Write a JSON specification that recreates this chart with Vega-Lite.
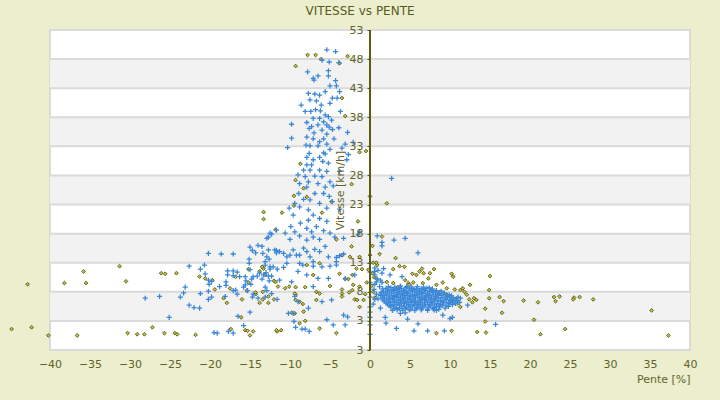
{
  "$schema": "https://vega.github.io/schema/vega-lite/v6.json",
  "width": 640,
  "height": 320,
  "autosize": {"type": "none"},
  "padding": {"left": 50, "top": 30, "right": 30, "bottom": 50},
  "background": "#ebefcd",
  "title": {"text": "VITESSE vs PENTE", "fontSize": 12, "fontWeight": "normal", "color": "#5a5a1e", "offset": 6, "dx": -10},
  "config": {
    "font": "DejaVu Sans",
    "view": {"fill": "#ffffff", "stroke": "#dadada", "strokeWidth": 2},
    "axis": {"labelColor": "#62622a", "titleColor": "#62622a", "labelFontSize": 11, "titleFontSize": 11, "titleFontWeight": "normal", "grid": false, "domain": false},
    "axisX": {"titleAnchor": "end", "titlePadding": 4, "labelPadding": 8, "ticks": false, "labelFlush": false},
    "axisY": {"offset": -320, "tickSize": 3, "tickColor": "#5c5c0c", "labelPadding": 4, "titlePadding": 4}
  },
  "datasets": {
    "bands": [{"lo": 3, "hi": 8}, {"lo": 13, "hi": 18}, {"lo": 23, "hi": 28}, {"lo": 33, "hi": 38}, {"lo": 43, "hi": 48}],
    "grid": [{"g": 3}, {"g": 8}, {"g": 13}, {"g": 18}, {"g": 23}, {"g": 28}, {"g": 33}, {"g": 38}, {"g": 43}, {"g": 48}],
    "olive": [
      {"p": -7.8, "v": 48.7}, {"p": -6.8, "v": 48.7}, {"p": -6.1, "v": 48.0}, {"p": -2.8, "v": 48.5}, {"p": -3.8, "v": 47.3}, {"p": -9.3, "v": 46.8}, {"p": -3.5, "v": 41.3}, {"p": -3.1, "v": 38.2}, {"p": -1.3, "v": 32.0}, {"p": -0.5, "v": 32.2},
      {"p": -8.7, "v": 30.0}, {"p": -9.3, "v": 27.2}, {"p": -8.3, "v": 25.8}, {"p": -9.5, "v": 24.5}, {"p": -7.9, "v": 24.3}, {"p": -4.8, "v": 23.5}, {"p": -9.5, "v": 22.8}, {"p": -13.3, "v": 21.7}, {"p": -11.0, "v": 21.6}, {"p": -13.3, "v": 20.5}, {"p": -6.0, "v": 21.6}, {"p": -1.5, "v": 20.1}, {"p": -11.8, "v": 18.7}, {"p": -4.2, "v": 17.0}, {"p": -2.3, "v": 15.8}, {"p": 0.3, "v": 15.9}, {"p": -2.5, "v": 14.0}, {"p": -1.3, "v": 14.0}, {"p": -6.3, "v": 12.9}, {"p": -7.9, "v": 12.6}, {"p": -2.3, "v": 26.5},
      {"p": -26.1, "v": 11.2}, {"p": -25.6, "v": 11.1}, {"p": -24.2, "v": 11.2}, {"p": -21.3, "v": 10.6}, {"p": -20.6, "v": 10.3}, {"p": -19.7, "v": 10.0}, {"p": -16.8, "v": 10.6}, {"p": -15.2, "v": 11.9}, {"p": -13.8, "v": 11.5}, {"p": -13.3, "v": 12.0}, {"p": -12.0, "v": 9.9}, {"p": -11.5, "v": 8.9}, {"p": -19.4, "v": 8.4}, {"p": -17.5, "v": 8.6}, {"p": -15.4, "v": 8.2}, {"p": -14.3, "v": 7.6}, {"p": -16.0, "v": 6.7}, {"p": -18.3, "v": 6.9}, {"p": -17.9, "v": 6.1}, {"p": -13.4, "v": 6.7}, {"p": -12.7, "v": 6.1}, {"p": -13.8, "v": 6.1}, {"p": -16.1, "v": 3.6}, {"p": -27.2, "v": 1.9}, {"p": -25.7, "v": 0.9}, {"p": -24.4, "v": 0.9}, {"p": -24.1, "v": 0.7}, {"p": -21.8, "v": 0.6}, {"p": -17.4, "v": 1.6}, {"p": -15.6, "v": 1.4}, {"p": -15.3, "v": 1.3}, {"p": -14.6, "v": 1.2}, {"p": -15.0, "v": 0.5}, {"p": -11.6, "v": 1.2},
      {"p": -42.8, "v": 9.3}, {"p": -44.8, "v": 1.6}, {"p": -42.3, "v": 1.9}, {"p": -40.2, "v": 0.5}, {"p": -38.2, "v": 9.5}, {"p": -35.8, "v": 11.5}, {"p": -35.5, "v": 9.5}, {"p": -36.6, "v": 0.5}, {"p": -31.3, "v": 12.4}, {"p": -30.5, "v": 9.8}, {"p": -30.3, "v": 0.9}, {"p": -29.1, "v": 0.7}, {"p": -28.2, "v": 0.7}, {"p": -15.2, "v": 9.6}, {"p": -14.3, "v": 7.9}, {"p": -11.7, "v": 1.4}, {"p": -11.1, "v": 1.4}, {"p": -10.6, "v": 8.6}, {"p": -9.8, "v": 4.4}, {"p": -9.3, "v": 7.5}, {"p": -9.3, "v": 8.8},
      {"p": -13.5, "v": 12.3}, {"p": -13.1, "v": 10.9}, {"p": -11.8, "v": 9.7}, {"p": -10.1, "v": 8.9}, {"p": -8.1, "v": 8.8}, {"p": -7.1, "v": 10.9}, {"p": -6.7, "v": 8.0}, {"p": -6.3, "v": 7.7}, {"p": -5.0, "v": 9.0}, {"p": -3.8, "v": 11.1}, {"p": -3.5, "v": 8.4}, {"p": -3.5, "v": 7.7}, {"p": -3.5, "v": 7.2}, {"p": -3.1, "v": 10.2}, {"p": -2.7, "v": 10.2}, {"p": -2.6, "v": 7.9}, {"p": -2.1, "v": 9.2}, {"p": -1.9, "v": 6.7}, {"p": -1.6, "v": 6.6}, {"p": -1.3, "v": 8.9}, {"p": -2.2, "v": 8.3}, {"p": -9.4, "v": 7.7}, {"p": -9.3, "v": 6.6}, {"p": -8.8, "v": 6.3}, {"p": -8.4, "v": 5.9}, {"p": -6.7, "v": 6.6}, {"p": -9.4, "v": 4.3}, {"p": -8.3, "v": 4.6}, {"p": -8.1, "v": 3.0}, {"p": -8.8, "v": 2.6}, {"p": -6.3, "v": 1.7}, {"p": -4.2, "v": 0.9}, {"p": -13.4, "v": 8.0}, {"p": -12.7, "v": 7.2}, {"p": -12.0, "v": 6.7}, {"p": -1.3, "v": 5.4}, {"p": -0.8, "v": 6.6}, {"p": -0.6, "v": 7.6}, {"p": -0.4, "v": 9.6}, {"p": -1.0, "v": 11.9}, {"p": -1.7, "v": 12.0}, {"p": -2.2, "v": 10.9}, {"p": -3.5, "v": 14.3}, {"p": 0.0, "v": 14.3}, {"p": -0.2, "v": 11.8}, {"p": 0.4, "v": 13.0}, {"p": 0.9, "v": 12.6},
      {"p": 2.1, "v": 23.2}, {"p": 1.5, "v": 17.5}, {"p": 1.2, "v": 14.5}, {"p": 3.2, "v": 13.8}, {"p": 0.8, "v": 13.0}, {"p": 3.7, "v": 12.4}, {"p": 0.0, "v": 24.4},
      {"p": 0.3, "v": 11.2}, {"p": 0.5, "v": 10.5}, {"p": 0.2, "v": 9.0}, {"p": 0.4, "v": 8.0}, {"p": 0.6, "v": 7.0},
      {"p": 4.3, "v": 12.3}, {"p": 2.9, "v": 11.9}, {"p": 6.5, "v": 12.0}, {"p": 6.2, "v": 11.5}, {"p": 6.7, "v": 11.2}, {"p": 5.3, "v": 11.1}, {"p": 5.8, "v": 10.9}, {"p": 7.5, "v": 11.2}, {"p": 7.3, "v": 10.3}, {"p": 8.0, "v": 11.9}, {"p": 10.2, "v": 11.1}, {"p": 10.4, "v": 10.6}, {"p": 0.8, "v": 10.3}, {"p": 2.9, "v": 9.5}, {"p": 4.4, "v": 10.0}, {"p": 5.4, "v": 9.6}, {"p": 6.6, "v": 9.5}, {"p": 8.3, "v": 9.2}, {"p": 9.1, "v": 9.6}, {"p": 9.6, "v": 8.6}, {"p": 10.6, "v": 8.4}, {"p": 11.3, "v": 8.3}, {"p": 11.8, "v": 8.0}, {"p": 12.1, "v": 7.5}, {"p": 12.5, "v": 9.2}, {"p": 12.4, "v": 6.7}, {"p": 13.0, "v": 6.9}, {"p": 13.3, "v": 6.6}, {"p": 9.6, "v": 7.5}, {"p": 10.0, "v": 7.2}, {"p": 10.6, "v": 6.7}, {"p": 11.0, "v": 6.0}, {"p": 11.3, "v": 5.4}, {"p": 8.3, "v": 0.9}, {"p": 10.2, "v": 1.3}, {"p": 13.4, "v": 1.1}, {"p": 4.8, "v": 9.5}, {"p": 7.7, "v": 8.3}, {"p": 8.8, "v": 8.0}, {"p": 6.9, "v": 8.3}, {"p": 2.1, "v": 9.7}, {"p": 3.5, "v": 8.8}, {"p": 4.9, "v": 9.2},
      {"p": 15.0, "v": 10.7}, {"p": 11.6, "v": 8.6}, {"p": 14.9, "v": 8.3}, {"p": 12.8, "v": 6.2}, {"p": 14.9, "v": 6.9}, {"p": 16.2, "v": 7.1}, {"p": 16.7, "v": 6.4}, {"p": 19.2, "v": 6.5}, {"p": 21.0, "v": 6.2}, {"p": 23.0, "v": 7.1}, {"p": 23.7, "v": 7.2}, {"p": 23.2, "v": 6.4}, {"p": 25.5, "v": 7.0}, {"p": 25.4, "v": 6.7}, {"p": 26.2, "v": 7.1}, {"p": 27.9, "v": 6.7}, {"p": 14.4, "v": 5.1}, {"p": 16.5, "v": 4.4}, {"p": 14.4, "v": 2.9}, {"p": 20.5, "v": 3.2}, {"p": 14.5, "v": 1.0}, {"p": 21.3, "v": 0.7}, {"p": 24.4, "v": 1.6}, {"p": 35.2, "v": 4.8}, {"p": 37.3, "v": 0.5}
    ],
    "blue": [
      {"p": -5.4, "v": 49.6}, {"p": -4.3, "v": 49.3}, {"p": -6.0, "v": 47.8}, {"p": -5.1, "v": 47.5}, {"p": -3.9, "v": 47.4}, {"p": -7.8, "v": 45.8}, {"p": -5.2, "v": 46.0}, {"p": -7.1, "v": 44.7}, {"p": -6.5, "v": 45.1}, {"p": -5.2, "v": 45.1}, {"p": -7.0, "v": 44.4}, {"p": -4.3, "v": 44.3}, {"p": -5.0, "v": 43.4}, {"p": -4.2, "v": 43.4}, {"p": -5.6, "v": 42.4}, {"p": -3.8, "v": 42.4}, {"p": -7.7, "v": 42.1}, {"p": -6.9, "v": 42.0}, {"p": -6.3, "v": 41.8}, {"p": -4.7, "v": 41.3}, {"p": -4.1, "v": 41.3}, {"p": -7.5, "v": 41.0}, {"p": -6.7, "v": 40.8}, {"p": -8.6, "v": 40.1}, {"p": -5.0, "v": 40.4}, {"p": -6.1, "v": 40.1}, {"p": -8.1, "v": 39.0}, {"p": -7.4, "v": 39.0}, {"p": -6.8, "v": 39.3}, {"p": -6.2, "v": 39.1}, {"p": -5.6, "v": 38.4}, {"p": -3.7, "v": 39.0}, {"p": -5.2, "v": 38.1}, {"p": -7.1, "v": 37.8}, {"p": -6.3, "v": 37.8}, {"p": -5.8, "v": 37.2}, {"p": -4.8, "v": 37.5}, {"p": -9.8, "v": 36.8}, {"p": -7.9, "v": 37.1}, {"p": -7.3, "v": 36.4}, {"p": -6.5, "v": 36.7}, {"p": -5.4, "v": 36.7}, {"p": -5.1, "v": 36.3}, {"p": -3.9, "v": 36.2}, {"p": -7.6, "v": 36.1}, {"p": -6.0, "v": 35.8}, {"p": -4.7, "v": 35.9}, {"p": -2.8, "v": 35.4}, {"p": -7.0, "v": 35.3}, {"p": -5.4, "v": 35.1}, {"p": -7.9, "v": 34.6}, {"p": -7.1, "v": 34.3}, {"p": -5.8, "v": 34.3}, {"p": -4.5, "v": 34.3}, {"p": -9.8, "v": 34.4}, {"p": -6.3, "v": 33.8}, {"p": -8.0, "v": 33.2}, {"p": -7.5, "v": 33.1}, {"p": -6.5, "v": 33.1}, {"p": -5.4, "v": 33.4}, {"p": -3.1, "v": 33.4}, {"p": -2.1, "v": 33.7}, {"p": -10.3, "v": 32.8}, {"p": -5.0, "v": 32.5}, {"p": -3.5, "v": 32.7}, {"p": -7.6, "v": 31.8}, {"p": -6.3, "v": 31.1}, {"p": -5.6, "v": 31.7}, {"p": -7.9, "v": 31.1}, {"p": -2.7, "v": 31.6},
      {"p": -5.8, "v": 31.9}, {"p": -7.1, "v": 30.7}, {"p": -7.9, "v": 29.8}, {"p": -7.3, "v": 29.8}, {"p": -5.9, "v": 30.4}, {"p": -5.2, "v": 30.1}, {"p": -2.9, "v": 30.7}, {"p": -8.3, "v": 28.9}, {"p": -7.5, "v": 28.9}, {"p": -6.3, "v": 28.9}, {"p": -5.4, "v": 28.7}, {"p": -3.8, "v": 28.7}, {"p": -9.0, "v": 28.1}, {"p": -8.1, "v": 27.8}, {"p": -6.9, "v": 27.9}, {"p": -6.0, "v": 27.8}, {"p": -5.0, "v": 26.9}, {"p": -7.7, "v": 26.9}, {"p": -8.8, "v": 26.6}, {"p": -6.5, "v": 26.6}, {"p": -7.9, "v": 26.0}, {"p": -5.6, "v": 26.0}, {"p": -4.6, "v": 26.2}, {"p": -8.9, "v": 24.9}, {"p": -6.9, "v": 24.9}, {"p": -5.8, "v": 24.9}, {"p": -5.1, "v": 24.4}, {"p": -8.3, "v": 23.9}, {"p": -7.5, "v": 23.8}, {"p": -6.3, "v": 23.2}, {"p": -4.7, "v": 23.5}, {"p": -9.4, "v": 23.2}, {"p": -10.1, "v": 22.4}, {"p": -8.8, "v": 22.6}, {"p": -7.7, "v": 22.1}, {"p": -5.4, "v": 22.4}, {"p": -3.8, "v": 22.2}, {"p": -7.1, "v": 21.2}, {"p": -9.6, "v": 21.2}, {"p": -6.3, "v": 20.6}, {"p": -7.7, "v": 20.3}, {"p": -8.7, "v": 19.8}, {"p": -5.4, "v": 20.1}, {"p": -9.9, "v": 19.2}, {"p": -6.7, "v": 19.2}, {"p": -7.9, "v": 18.9}, {"p": -12.5, "v": 18.1}, {"p": -11.7, "v": 18.6}, {"p": -9.4, "v": 18.3}, {"p": -7.3, "v": 18.3}, {"p": -5.8, "v": 18.5}, {"p": -5.0, "v": 18.1}, {"p": -10.6, "v": 18.1}, {"p": -8.8, "v": 17.6}, {"p": -7.1, "v": 17.4}, {"p": -4.4, "v": 17.4}, {"p": -12.9, "v": 17.2}, {"p": -10.0, "v": 17.0}, {"p": -7.9, "v": 16.9}, {"p": -6.3, "v": 17.0}, {"p": -3.3, "v": 17.2}, {"p": -13.5, "v": 15.8}, {"p": -11.9, "v": 15.2}, {"p": -11.3, "v": 14.9}, {"p": -9.6, "v": 15.2}, {"p": -8.3, "v": 15.5}, {"p": -6.9, "v": 15.3}, {"p": -5.6, "v": 15.8}, {"p": -12.9, "v": 14.0}, {"p": -10.4, "v": 14.0}, {"p": -9.2, "v": 14.3}, {"p": -7.5, "v": 14.0}, {"p": -6.3, "v": 14.9}, {"p": -5.2, "v": 14.0}, {"p": -3.8, "v": 14.2}, {"p": -1.5, "v": 17.8}, {"p": -1.3, "v": 18.3}, {"p": -8.8, "v": 12.9}, {"p": -7.1, "v": 13.2}, {"p": -4.2, "v": 13.2}, {"p": -12.5, "v": 12.3}, {"p": -10.8, "v": 12.2},
      {"p": -20.2, "v": 14.6}, {"p": -18.6, "v": 14.5}, {"p": -17.1, "v": 14.5}, {"p": -15.0, "v": 15.7}, {"p": -14.7, "v": 15.1}, {"p": -14.0, "v": 16.0}, {"p": -14.3, "v": 14.7}, {"p": -13.4, "v": 14.6}, {"p": -12.7, "v": 15.2}, {"p": -12.3, "v": 17.9}, {"p": -12.7, "v": 17.4}, {"p": -11.7, "v": 15.1}, {"p": -15.1, "v": 13.6}, {"p": -15.1, "v": 12.9}, {"p": -12.6, "v": 13.6}, {"p": -13.1, "v": 13.2}, {"p": -22.6, "v": 12.4}, {"p": -20.7, "v": 12.6}, {"p": -21.2, "v": 11.9}, {"p": -17.8, "v": 11.6}, {"p": -17.1, "v": 11.6}, {"p": -16.6, "v": 11.4}, {"p": -15.0, "v": 11.8}, {"p": -13.8, "v": 11.2}, {"p": -13.0, "v": 11.3}, {"p": -12.5, "v": 11.9}, {"p": -11.6, "v": 11.9}, {"p": -20.6, "v": 11.1}, {"p": -17.8, "v": 10.9}, {"p": -17.1, "v": 10.8}, {"p": -16.3, "v": 10.6}, {"p": -15.6, "v": 10.6}, {"p": -14.6, "v": 10.6}, {"p": -14.1, "v": 10.7}, {"p": -13.3, "v": 10.9}, {"p": -12.7, "v": 10.7}, {"p": -20.2, "v": 10.0}, {"p": -19.8, "v": 9.8}, {"p": -18.0, "v": 9.7}, {"p": -15.5, "v": 9.9}, {"p": -14.8, "v": 10.2}, {"p": -13.5, "v": 10.2}, {"p": -12.6, "v": 9.9}, {"p": -20.1, "v": 9.3}, {"p": -18.8, "v": 8.9}, {"p": -18.0, "v": 9.1}, {"p": -15.6, "v": 9.2}, {"p": -14.9, "v": 9.3}, {"p": -13.1, "v": 8.8}, {"p": -23.1, "v": 8.8}, {"p": -16.8, "v": 8.3}, {"p": -15.8, "v": 8.8}, {"p": -20.2, "v": 8.1}, {"p": -21.2, "v": 7.7}, {"p": -23.3, "v": 7.8}, {"p": -17.1, "v": 8.2}, {"p": -16.6, "v": 7.6}, {"p": -15.3, "v": 8.2}, {"p": -14.6, "v": 7.6}, {"p": -12.9, "v": 8.2}, {"p": -26.3, "v": 7.2}, {"p": -23.7, "v": 7.1}, {"p": -20.2, "v": 6.7}, {"p": -19.8, "v": 7.1}, {"p": -18.1, "v": 7.2}, {"p": -14.7, "v": 7.1}, {"p": -14.0, "v": 6.9}, {"p": -13.1, "v": 7.1}, {"p": -11.6, "v": 6.7}, {"p": -22.6, "v": 5.7}, {"p": -22.0, "v": 5.3}, {"p": -21.3, "v": 5.2}, {"p": -15.0, "v": 4.5}, {"p": -16.5, "v": 3.8}, {"p": -25.1, "v": 3.6}, {"p": -15.8, "v": 2.2}, {"p": -19.5, "v": 1.0}, {"p": -19.1, "v": 0.9}, {"p": -17.7, "v": 1.2}, {"p": -17.1, "v": 0.9}, {"p": -28.1, "v": 6.9},
      {"p": -11.7, "v": 14.7}, {"p": -10.8, "v": 14.6}, {"p": -10.0, "v": 14.3}, {"p": -8.8, "v": 14.3}, {"p": -7.9, "v": 14.9}, {"p": -4.2, "v": 13.9}, {"p": -3.3, "v": 14.5}, {"p": -13.1, "v": 12.6}, {"p": -12.1, "v": 12.3}, {"p": -10.4, "v": 12.9}, {"p": -9.0, "v": 11.5}, {"p": -8.4, "v": 12.6}, {"p": -7.1, "v": 12.4}, {"p": -6.0, "v": 12.3}, {"p": -5.0, "v": 12.4}, {"p": -4.2, "v": 12.6}, {"p": -12.3, "v": 10.7}, {"p": -11.3, "v": 10.0}, {"p": -9.8, "v": 9.7}, {"p": -7.9, "v": 10.9}, {"p": -7.1, "v": 8.9}, {"p": -6.5, "v": 10.3}, {"p": -5.2, "v": 10.3}, {"p": -3.1, "v": 10.3}, {"p": -1.9, "v": 10.9}, {"p": -12.3, "v": 7.7}, {"p": -9.4, "v": 7.2}, {"p": -9.0, "v": 6.3}, {"p": -7.7, "v": 5.2}, {"p": -6.0, "v": 6.3}, {"p": -4.8, "v": 6.6}, {"p": -10.2, "v": 4.3}, {"p": -9.6, "v": 4.3}, {"p": -9.5, "v": 2.9}, {"p": -9.3, "v": 1.9}, {"p": -8.5, "v": 1.6}, {"p": -8.1, "v": 1.6}, {"p": -7.6, "v": 1.2}, {"p": -5.4, "v": 3.2}, {"p": -4.6, "v": 2.3}, {"p": -3.3, "v": 4.0}, {"p": -2.8, "v": 3.7}, {"p": -3.1, "v": 2.3}, {"p": 0.6, "v": 10.9}, {"p": 0.8, "v": 9.7},
      {"p": 0, "v": 12.9}, {"p": 0, "v": 11.4}, {"p": 0, "v": 9.6}, {"p": 0, "v": 7.1}, {"p": 0, "v": 5.4}, {"p": 0, "v": 4.5}, {"p": 0, "v": 3.6}, {"p": 0, "v": 2.3}, {"p": 0, "v": 0.7},
      {"p": 6.0, "v": 14.7}, {"p": 1.7, "v": 12.0}, {"p": 1.5, "v": 11.2}, {"p": 2.5, "v": 10.9}, {"p": 0.6, "v": 11.5}, {"p": 1.3, "v": 10.0}, {"p": 4.0, "v": 10.6}, {"p": 1.3, "v": 5.2}, {"p": 2.8, "v": 4.8}, {"p": 3.8, "v": 4.3}, {"p": 4.4, "v": 4.4}, {"p": 1.9, "v": 3.6}, {"p": 2.0, "v": 2.6}, {"p": 3.3, "v": 1.7}, {"p": 4.7, "v": 3.3}, {"p": 6.0, "v": 2.5}, {"p": 5.5, "v": 1.3}, {"p": 7.2, "v": 1.3}, {"p": 9.1, "v": 4.0}, {"p": 10.0, "v": 3.4}, {"p": 10.3, "v": 3.6}, {"p": 9.3, "v": 1.3}, {"p": 11.3, "v": 6.9}, {"p": 12.2, "v": 5.7}, {"p": 8.3, "v": 4.8}, {"p": 15.7, "v": 2.4}, {"p": 0.6, "v": 12.1}, {"p": 1.0, "v": 11.7}, {"p": 0.9, "v": 10.2}, {"p": 0.6, "v": 9.3}, {"p": 0.5, "v": 8.4}, {"p": 0.8, "v": 7.6}, {"p": 0.6, "v": 6.7}, {"p": 0.4, "v": 5.9}, {"p": 1.0, "v": 6.8}, {"p": 1.2, "v": 8.9}, {"p": 1.5, "v": 9.6}, {"p": 1.3, "v": 7.4}, {"p": 0.9, "v": 17.6}, {"p": 1.5, "v": 16.5}, {"p": 1.5, "v": 15.9}, {"p": 3.0, "v": 16.9}, {"p": 4.4, "v": 17.2}, {"p": 2.7, "v": 27.5},
      {"p": 2.3, "v": 8.9}, {"p": 3.1, "v": 8.8}, {"p": 3.8, "v": 9.0}, {"p": 4.6, "v": 8.9}, {"p": 5.2, "v": 8.8}, {"p": 5.9, "v": 8.9}, {"p": 6.7, "v": 8.8}, {"p": 7.4, "v": 8.7},
      {"p": 2.0, "v": 8.6}, {"p": 2.6, "v": 8.7}, {"p": 3.3, "v": 8.6}, {"p": 3.9, "v": 8.6}, {"p": 4.5, "v": 8.7}, {"p": 5.2, "v": 8.6}, {"p": 5.8, "v": 8.5}, {"p": 6.4, "v": 8.6}, {"p": 7.1, "v": 8.6}, {"p": 7.8, "v": 8.5},
      {"p": 1.6, "v": 8.5}, {"p": 2.2, "v": 8.3}, {"p": 2.9, "v": 8.4}, {"p": 3.5, "v": 8.4}, {"p": 4.2, "v": 8.3}, {"p": 4.9, "v": 8.5}, {"p": 5.5, "v": 8.4}, {"p": 6.1, "v": 8.3}, {"p": 6.8, "v": 8.4}, {"p": 7.6, "v": 8.3}, {"p": 8.3, "v": 8.2},
      {"p": 1.7, "v": 8.1}, {"p": 2.4, "v": 8.1}, {"p": 3.0, "v": 8.2}, {"p": 3.7, "v": 8.1}, {"p": 4.3, "v": 8.1}, {"p": 5.0, "v": 8.2}, {"p": 5.6, "v": 8.1}, {"p": 6.2, "v": 8.1}, {"p": 6.9, "v": 8.2}, {"p": 7.5, "v": 8.1}, {"p": 8.2, "v": 8.0}, {"p": 8.9, "v": 8.1},
      {"p": 1.4, "v": 7.9}, {"p": 2.0, "v": 7.8}, {"p": 2.7, "v": 8.0}, {"p": 3.3, "v": 7.9}, {"p": 4.0, "v": 7.8}, {"p": 4.6, "v": 7.9}, {"p": 5.3, "v": 8.0}, {"p": 5.9, "v": 7.8}, {"p": 6.5, "v": 7.9}, {"p": 7.2, "v": 7.8}, {"p": 7.9, "v": 7.9}, {"p": 8.6, "v": 7.7}, {"p": 9.3, "v": 7.8},
      {"p": 1.4, "v": 7.6}, {"p": 2.1, "v": 7.6}, {"p": 2.7, "v": 7.7}, {"p": 3.4, "v": 7.6}, {"p": 4.0, "v": 7.6}, {"p": 4.7, "v": 7.7}, {"p": 5.3, "v": 7.6}, {"p": 5.9, "v": 7.6}, {"p": 6.6, "v": 7.7}, {"p": 7.2, "v": 7.6}, {"p": 7.9, "v": 7.6}, {"p": 8.5, "v": 7.5}, {"p": 9.2, "v": 7.6}, {"p": 9.9, "v": 7.5},
      {"p": 1.7, "v": 7.4}, {"p": 2.4, "v": 7.3}, {"p": 3.0, "v": 7.4}, {"p": 3.6, "v": 7.5}, {"p": 4.3, "v": 7.4}, {"p": 4.9, "v": 7.3}, {"p": 5.6, "v": 7.4}, {"p": 6.2, "v": 7.5}, {"p": 6.9, "v": 7.3}, {"p": 7.5, "v": 7.4}, {"p": 8.2, "v": 7.3}, {"p": 8.9, "v": 7.4}, {"p": 9.6, "v": 7.2}, {"p": 10.2, "v": 7.3},
      {"p": 1.8, "v": 7.1}, {"p": 2.5, "v": 7.1}, {"p": 3.1, "v": 7.2}, {"p": 3.8, "v": 7.1}, {"p": 4.4, "v": 7.1}, {"p": 5.1, "v": 7.2}, {"p": 5.7, "v": 7.1}, {"p": 6.4, "v": 7.1}, {"p": 7.0, "v": 7.2}, {"p": 7.7, "v": 7.1}, {"p": 8.3, "v": 7.1}, {"p": 9.0, "v": 7.0}, {"p": 9.7, "v": 7.0}, {"p": 10.4, "v": 7.0}, {"p": 11.0, "v": 7.1},
      {"p": 1.5, "v": 6.9}, {"p": 2.1, "v": 6.8}, {"p": 2.8, "v": 6.9}, {"p": 3.4, "v": 7.0}, {"p": 4.1, "v": 6.9}, {"p": 4.7, "v": 6.8}, {"p": 5.4, "v": 6.9}, {"p": 6.0, "v": 7.0}, {"p": 6.6, "v": 6.8}, {"p": 7.3, "v": 6.9}, {"p": 8.0, "v": 6.8}, {"p": 8.6, "v": 6.9}, {"p": 9.4, "v": 6.8}, {"p": 10.1, "v": 6.7}, {"p": 10.8, "v": 6.8},
      {"p": 1.6, "v": 6.6}, {"p": 2.3, "v": 6.6}, {"p": 2.9, "v": 6.7}, {"p": 3.6, "v": 6.6}, {"p": 4.2, "v": 6.6}, {"p": 4.9, "v": 6.7}, {"p": 5.5, "v": 6.6}, {"p": 6.2, "v": 6.6}, {"p": 6.8, "v": 6.7}, {"p": 7.5, "v": 6.6}, {"p": 8.1, "v": 6.6}, {"p": 8.8, "v": 6.5}, {"p": 9.5, "v": 6.6}, {"p": 10.2, "v": 6.5}, {"p": 10.9, "v": 6.5},
      {"p": 1.8, "v": 6.4}, {"p": 2.5, "v": 6.3}, {"p": 3.1, "v": 6.4}, {"p": 3.8, "v": 6.5}, {"p": 4.4, "v": 6.3}, {"p": 5.1, "v": 6.4}, {"p": 5.7, "v": 6.3}, {"p": 6.3, "v": 6.4}, {"p": 7.0, "v": 6.5}, {"p": 7.7, "v": 6.3}, {"p": 8.4, "v": 6.4}, {"p": 9.1, "v": 6.3}, {"p": 9.8, "v": 6.2}, {"p": 10.5, "v": 6.3}, {"p": 11.2, "v": 6.2},
      {"p": 2.0, "v": 6.1}, {"p": 2.6, "v": 6.1}, {"p": 3.3, "v": 6.2}, {"p": 3.9, "v": 6.1}, {"p": 4.6, "v": 6.1}, {"p": 5.2, "v": 6.2}, {"p": 5.9, "v": 6.1}, {"p": 6.5, "v": 6.1}, {"p": 7.2, "v": 6.2}, {"p": 7.8, "v": 6.1}, {"p": 8.5, "v": 6.0}, {"p": 9.2, "v": 6.1}, {"p": 9.9, "v": 6.0}, {"p": 10.7, "v": 6.0},
      {"p": 2.2, "v": 5.9}, {"p": 2.9, "v": 5.8}, {"p": 3.5, "v": 5.9}, {"p": 4.2, "v": 6.0}, {"p": 4.8, "v": 5.8}, {"p": 5.5, "v": 5.9}, {"p": 6.1, "v": 5.8}, {"p": 6.8, "v": 5.9}, {"p": 7.4, "v": 5.8}, {"p": 8.1, "v": 5.9}, {"p": 8.8, "v": 5.8}, {"p": 9.5, "v": 5.7}, {"p": 10.3, "v": 5.8},
      {"p": 2.4, "v": 5.6}, {"p": 3.0, "v": 5.6}, {"p": 3.7, "v": 5.7}, {"p": 4.3, "v": 5.6}, {"p": 5.0, "v": 5.6}, {"p": 5.6, "v": 5.7}, {"p": 6.3, "v": 5.6}, {"p": 6.9, "v": 5.6}, {"p": 7.6, "v": 5.6}, {"p": 8.3, "v": 5.5}, {"p": 9.0, "v": 5.6}, {"p": 9.8, "v": 5.5},
      {"p": 2.6, "v": 5.4}, {"p": 3.3, "v": 5.3}, {"p": 4.0, "v": 5.4}, {"p": 4.6, "v": 5.3}, {"p": 5.3, "v": 5.4}, {"p": 5.9, "v": 5.3}, {"p": 6.6, "v": 5.4}, {"p": 7.3, "v": 5.3}, {"p": 8.0, "v": 5.3}, {"p": 8.7, "v": 5.4}, {"p": 9.4, "v": 5.2},
      {"p": 3.0, "v": 5.1}, {"p": 3.7, "v": 5.1}, {"p": 4.4, "v": 5.1}, {"p": 5.1, "v": 5.0}, {"p": 5.8, "v": 5.1}, {"p": 6.5, "v": 5.1}, {"p": 7.2, "v": 5.0}, {"p": 7.9, "v": 5.1}, {"p": 8.6, "v": 5.0},
      {"p": 3.4, "v": 4.9}, {"p": 4.1, "v": 4.8}, {"p": 4.9, "v": 4.9}, {"p": 5.6, "v": 4.8}, {"p": 6.4, "v": 4.9}, {"p": 7.2, "v": 4.8}, {"p": 8.0, "v": 4.9}
    ]
  },
  "layer": [
    {
      "data": {"name": "bands"},
      "mark": {"type": "rect", "color": "#f2f2f2"},
      "encoding": {
        "x": {"value": 0},
        "x2": {"value": "width"},
        "y": {"field": "lo", "type": "quantitative", "title": "Vitesse [km/h]", "scale": {"domain": [-2, 53], "nice": false, "zero": false},
          "axis": {"values": [-2, 3, 8, 13, 18, 23, 28, 33, 38, 43, 48, 53], "labelExpr": "datum.value < 0 ? '3' : datum.label", "zindex": 1}},
        "y2": {"field": "hi"}
      }
    },
    {
      "data": {"name": "grid"},
      "mark": {"type": "rule", "color": "#dadada", "strokeWidth": 2},
      "encoding": {
        "y": {"field": "g", "type": "quantitative", "title": "Vitesse [km/h]", "scale": {"domain": [-2, 53], "nice": false, "zero": false},
          "axis": {"values": [-2, 3, 8, 13, 18, 23, 28, 33, 38, 43, 48, 53], "labelExpr": "datum.value < 0 ? '3' : datum.label", "zindex": 1}}
      }
    },
    {
      "data": {"name": "olive"},
      "mark": {"type": "point", "shape": "diamond", "filled": true, "size": 14, "fill": "#c2c24a", "stroke": "#55550a", "strokeWidth": 0.9, "opacity": 1},
      "encoding": {
        "x": {"field": "p", "type": "quantitative", "title": "Pente [%]", "scale": {"domain": [-40, 40], "nice": false, "zero": false},
          "axis": {"values": [-40, -35, -30, -25, -20, -15, -10, -5, 0, 5, 10, 15, 20, 25, 30, 35, 40]}},
        "y": {"field": "v", "type": "quantitative", "title": "Vitesse [km/h]", "scale": {"domain": [-2, 53], "nice": false, "zero": false},
          "axis": {"values": [-2, 3, 8, 13, 18, 23, 28, 33, 38, 43, 48, 53], "labelExpr": "datum.value < 0 ? '3' : datum.label", "zindex": 1}}
      }
    },
    {
      "data": {"name": "blue"},
      "mark": {"type": "point", "shape": "M-1,-0.25H1V0.25H-1Z M-0.25,-1H0.25V1H-0.25Z", "filled": true, "size": 26, "color": "#3a87d9", "opacity": 1},
      "encoding": {
        "x": {"field": "p", "type": "quantitative", "title": "Pente [%]", "scale": {"domain": [-40, 40], "nice": false, "zero": false},
          "axis": {"values": [-40, -35, -30, -25, -20, -15, -10, -5, 0, 5, 10, 15, 20, 25, 30, 35, 40]}},
        "y": {"field": "v", "type": "quantitative", "title": "Vitesse [km/h]", "scale": {"domain": [-2, 53], "nice": false, "zero": false},
          "axis": {"values": [-2, 3, 8, 13, 18, 23, 28, 33, 38, 43, 48, 53], "labelExpr": "datum.value < 0 ? '3' : datum.label", "zindex": 1}}
      }
    },
    {
      "data": {"values": [{"p": 0}]},
      "mark": {"type": "rule", "color": "#5c5c0c", "strokeWidth": 2},
      "encoding": {
        "x": {"field": "p", "type": "quantitative", "title": "Pente [%]", "scale": {"domain": [-40, 40], "nice": false, "zero": false},
          "axis": {"values": [-40, -35, -30, -25, -20, -15, -10, -5, 0, 5, 10, 15, 20, 25, 30, 35, 40]}}
      }
    }
  ]
}
